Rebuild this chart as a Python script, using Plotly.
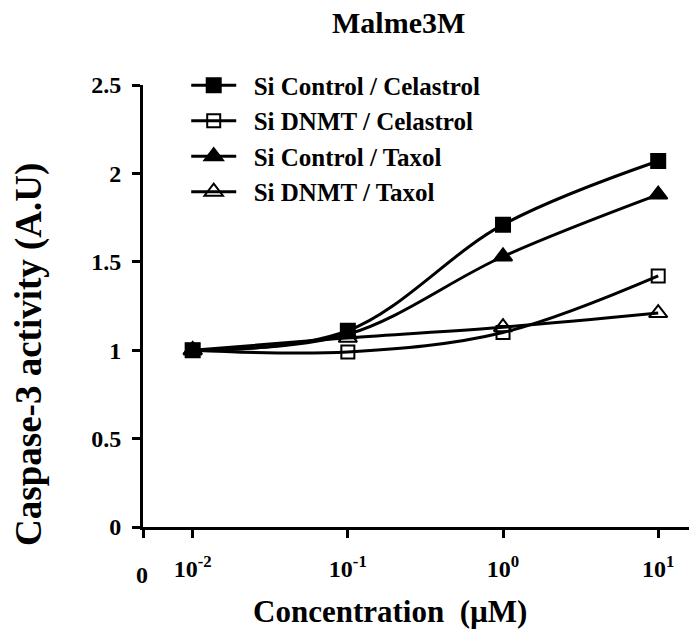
import plotly.graph_objects as go

conc = [0.01, 0.1, 1, 10]
si_ctrl_cel = [1.00, 1.11, 1.71, 2.07]
si_dnmt_cel = [1.00, 0.99, 1.10, 1.42]
si_ctrl_tax = [1.00, 1.09, 1.53, 1.88]
si_dnmt_tax = [1.00, 1.07, 1.13, 1.21]

series = [
    ("Si Control / Celastrol", si_ctrl_cel, "square", 14),
    ("Si DNMT / Celastrol", si_dnmt_cel, "square-open", 13),
    ("Si Control / Taxol", si_ctrl_tax, "triangle-up", 16),
    ("Si DNMT / Taxol", si_dnmt_tax, "triangle-up-open", 16),
]

FONT = "Liberation Serif"
x_left = 10 ** -2.32
NB = "\u00a0\u00a0"


def F(size):
    return dict(family=FONT, size=size, color="black", weight="bold")


fig = go.Figure()
for i, (name, vals, sym, size) in enumerate(series):
    fig.add_trace(go.Scatter(
        x=conc, y=vals, name=NB + name, mode="lines+markers", legendgroup=f"g{i}",
        line=dict(color="black", width=3, shape="spline", smoothing=1),
        marker=dict(symbol=sym, size=size, color="black",
                    line=dict(color="black", width=2)),
    ))

fig.update_layout(
    width=689, height=624,
    margin=dict(l=135, r=0, t=77, b=105),
    paper_bgcolor="white", plot_bgcolor="white",
    font=dict(family=FONT, color="black", size=24),
    showlegend=True,
    legend=dict(x=0.078, y=1.051, xanchor="left", yanchor="top",
                bgcolor="rgba(0,0,0,0)", itemwidth=45,
                font=F(25), tracegroupgap=2, traceorder="normal"),
    xaxis=dict(type="log", range=[-2.32, 1.25],
               tickvals=[x_left, 0.01, 0.1, 1, 10],
               ticktext=["", "10<sup>-2</sup>", "10<sup>-1</sup>", "10<sup>0</sup>", "10<sup>1</sup>"],
               ticks="outside", ticklen=8, tickwidth=3, tickcolor="black",
               showline=True, linewidth=3, linecolor="black",
               showgrid=False, zeroline=False, ticklabelstandoff=10,
               tickfont=F(24)),
    yaxis=dict(range=[0, 2.5], tickvals=[0, 0.5, 1, 1.5, 2, 2.5],
               ticktext=["0", "0.5", "1", "1.5", "2", "2.5"],
               ticks="outside", ticklen=8, tickwidth=3, tickcolor="black",
               showline=True, linewidth=3, linecolor="black",
               showgrid=False, zeroline=False, ticklabelstandoff=6,
               tickfont=F(24)),
    annotations=[
        dict(text="Malme3M", xref="paper", yref="paper", x=0.462, y=1.1425,
             showarrow=False, xanchor="center", yanchor="middle", font=F(30)),
        dict(text="Concentration  (µM)", xref="paper", yref="paper", x=0.446, y=-0.192,
             showarrow=False, xanchor="center", yanchor="middle", font=F(31)),
        dict(text="Caspase-3 activity (A.U)", xref="paper", yref="paper", x=-0.207, y=0.39,
             showarrow=False, xanchor="center", yanchor="middle", textangle=-90, font=F(37)),
        dict(text="0", xref="paper", yref="paper", x=-0.002, y=-0.109,
             showarrow=False, xanchor="center", yanchor="middle", font=F(24)),
    ],
)

fig.write_html("out.html")
